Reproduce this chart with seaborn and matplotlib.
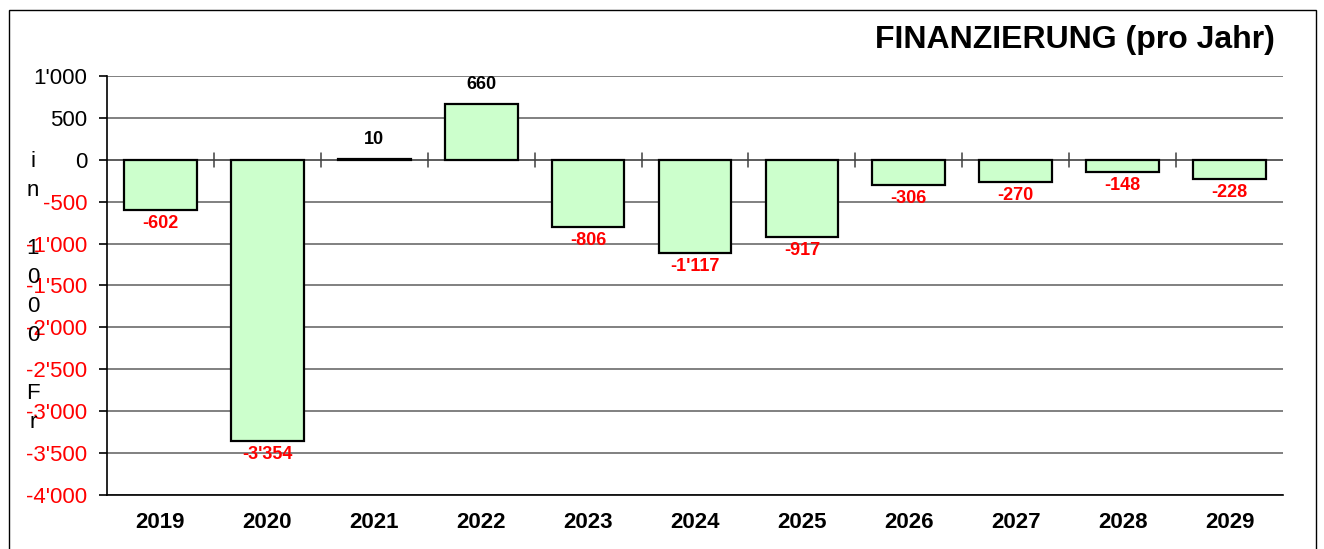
import numpy as np
import pandas as pd
import matplotlib
matplotlib.use("Agg")
import matplotlib.pyplot as plt
import seaborn as sns
from matplotlib.patches import Rectangle
from matplotlib.ticker import FuncFormatter

years = ["2019", "2020", "2021", "2022", "2023", "2024", "2025", "2026", "2027", "2028", "2029"]
values = [-602, -3354, 10, 660, -806, -1117, -917, -306, -270, -148, -228]
yticks = [1000, 500, 0, -500, -1000, -1500, -2000, -2500, -3000, -3500, -4000]

sns.set_style("white")
plt.rcParams["font.family"] = ["Liberation Sans", "DejaVu Sans"]
plt.rcParams["text.color"] = "black"
plt.rcParams["xtick.color"] = "black"
plt.rcParams["ytick.color"] = "black"

df = pd.DataFrame({"Jahr": years, "Wert": values})


def swiss(v):
    s = f"{abs(int(v)):,}".replace(",", "'")
    return ("-" if v < 0 else "") + s


fig = plt.figure(figsize=(13.24, 5.49), dpi=100)
ax = fig.add_axes([107 / 1324, 1 - 495 / 549, 1176 / 1324, 419 / 549])

sns.barplot(data=df, x="Jahr", y="Wert", ax=ax, color="#ccffcc",
            edgecolor="black", linewidth=1.6, width=0.68, saturation=1, zorder=3)

ax.set_ylim(-4000, 1000)
ax.set_xlim(-0.5, len(years) - 0.5)
ax.set_yticks(yticks)
ax.yaxis.set_major_formatter(FuncFormatter(lambda v, p: swiss(v)))
ax.grid(axis="y", color="#808080", linewidth=1.4, zorder=0)
ax.set_axisbelow(True)
ax.axhline(0, color="#606060", linewidth=1.4, zorder=2)

for s in ["top", "right"]:
    ax.spines[s].set_visible(False)
for s in ["left", "bottom"]:
    ax.spines[s].set_color("black")
    ax.spines[s].set_linewidth(1.2)

ax.tick_params(axis="y", length=6, width=1.2, color="black", labelsize=16, pad=8, direction="out", left=True)
ax.tick_params(axis="x", length=0, labelsize=16, pad=12)
for lab in ax.get_xticklabels():
    lab.set_fontweight("bold")
for lab, v in zip(ax.get_yticklabels(), yticks):
    lab.set_color("red" if v < 0 else "black")

# small separators on the zero line between categories
for i in range(len(years) - 1):
    ax.plot([i + 0.5, i + 0.5], [-85, 85], color="#404040", linewidth=1.1, zorder=4)

for i, v in enumerate(values):
    if v < 0:
        ax.annotate(swiss(v), (i, v), xytext=(0, -3.5), textcoords="offset points",
                    ha="center", va="top", color="red", fontsize=13, fontweight="bold")
    else:
        ax.annotate(swiss(v), (i, v), xytext=(0, 8), textcoords="offset points",
                    ha="center", va="bottom", color="black", fontsize=13, fontweight="bold")

ax.set_xlabel("")
ax.set_ylabel("")

fig.text(33 / 1324, 1 - 292 / 549, "i\nn\n \n1\n0\n0\n0\n \nF\nr", ha="center", va="center",
         fontsize=16, linespacing=1.5)

fig.text(1275 / 1324, 1 - 40 / 549, "FINANZIERUNG (pro Jahr)", ha="right", va="center",
         fontsize=23, fontweight="bold")

fig.patches.append(Rectangle((9 / 1324, -0.05), 1307 / 1324, 1.05 - 10 / 549,
                             transform=fig.transFigure, fill=False, edgecolor="black",
                             linewidth=1.0, zorder=0))

fig.savefig("out.png", dpi=100)
